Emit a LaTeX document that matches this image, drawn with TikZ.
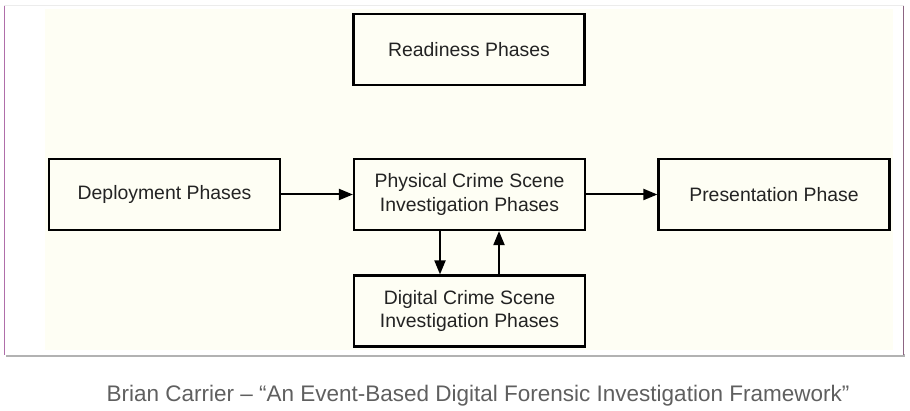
\documentclass[tikz,border=0pt]{standalone}
\usepackage{fontspec}
\setmainfont{Liberation Sans}
\usetikzlibrary{arrows.meta}
\definecolor{beige}{RGB}{254,254,244}
\definecolor{edgepurple}{RGB}{176,110,170}
\definecolor{edgepurpleR}{RGB}{140,100,130}
\definecolor{captiongray}{RGB}{95,95,95}
\definecolor{boxtext}{RGB}{35,35,35}
\tikzset{
  phasebox/.style={draw=black, line width=2.2pt, fill=beige, minimum width=231pt, minimum height=71pt,
    inner sep=0pt, align=center, text=boxtext, font=\fontsize{19.4}{23.5}\selectfont},
  flow/.style={line width=2pt, -{Triangle[length=14pt,width=11pt]}},
}
\begin{document}
\begin{tikzpicture}[x=1pt,y=-1pt]
\useasboundingbox (0,0) rectangle (910,411);
% card
\fill[gray!60] (6,354) rectangle (905,357);
\fill[white] (4,6) rectangle (904,355);
\draw[gray!15, line width=1pt] (4,6) -- (904,6);
\draw[edgepurple, line width=1pt] (4.5,6) -- (4.5,355);
\draw[edgepurpleR, line width=1.5pt] (903.5,6) -- (903.5,355);
\fill[beige] (45,9) rectangle (893,350);
% boxes
\node[phasebox] (ready) at (469,49.5) {Readiness Phases};
\node[phasebox] (deploy) at (164.5,194.5) {Deployment Phases};
\node[phasebox] (phys) at (469.5,194.5) {Physical Crime Scene\\Investigation Phases};
\node[phasebox] (pres) at (774,194.5) {Presentation Phase};
\node[phasebox] (digi) at (469.5,311) {Digital Crime Scene\\Investigation Phases};
% connectors
\draw[flow] (deploy.east) -- (phys.west);
\draw[flow] (phys.east) -- (pres.west);
\draw[flow] (phys.south -| 440,0) -- (digi.north -| 440,0);
\draw[flow] (digi.north -| 499,0) -- (phys.south -| 499,0);
% caption
\node[text=captiongray, font=\fontsize{22.5}{26}\selectfont, anchor=base] (cap) at (478,401)
  {Brian Carrier – “An Event-Based Digital Forensic Investigation Framework”};
\end{tikzpicture}
\end{document}
